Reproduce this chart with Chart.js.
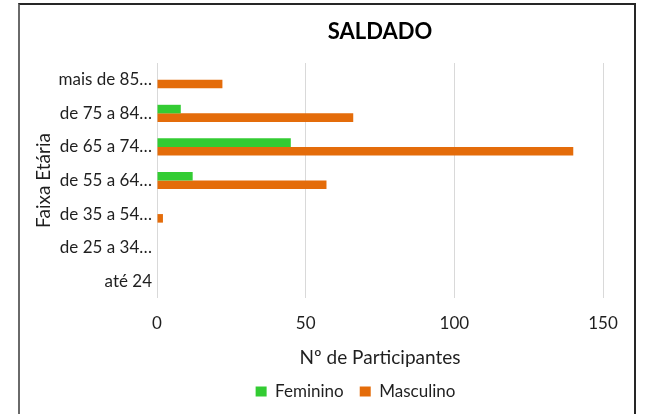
<!DOCTYPE html>
<html>
<head>
<meta charset="utf-8">
<script src="https://cdn.jsdelivr.net/npm/chart.js@4.4.1/dist/chart.umd.min.js"></script>
<style>
  html, body { margin: 0; padding: 0; background: #fff; overflow: hidden; }
  #wrap { position: relative; width: 645px; height: 414px; }
  #frame { position: absolute; left: 18px; top: 3px; width: 614px; height: 440px;
           border-style: solid; border-width: 2px; border-color: #262626 #262626 transparent #6a6a6a;
           pointer-events: none; box-sizing: content-box; }
  canvas { position: absolute; left: 0; top: 0; }
</style>
</head>
<body>
<div id="wrap">
  <canvas id="c" width="645" height="414"></canvas>
  <div id="frame"></div>
</div>
<script>
const chartTitle = 'SALDADO';
const categories = ['mais de 85…', 'de 75 a 84…', 'de 65 a 74…', 'de 55 a 64…', 'de 35 a 54…', 'de 25 a 34…', 'até 24'];
const seriesNames = ['Feminino', 'Masculino'];
const feminino = [0, 8, 45, 12, 0, 0, 0];
const masculino = [22, 66, 140, 57, 2, 0, 0];
const xTickValues = [0, 50, 100, 150];
const xAxisTitle = 'Nº de Participantes';
const yAxisTitle = 'Faixa Etária';

const FONT = 'Lato, "Open Sans", sans-serif';
const TEXT = '#1f1f1f';

const legendShift = {
  id: 'legendShift',
  afterLayout(chart) {
    const L = chart.legend;
    if (!L) return;
    const DX = 43, DY = -4;
    L.left += DX; L.right += DX; L.top += DY; L.bottom += DY;
  }
};

new Chart(document.getElementById('c'), {
  type: 'bar',
  data: {
    labels: categories,
    datasets: [
      { label: seriesNames[0], data: feminino, backgroundColor: '#33CC33', borderWidth: 0,
        categoryPercentage: 0.51, barPercentage: 1.0 },
      { label: seriesNames[1], data: masculino, backgroundColor: '#E46C0A', borderWidth: 0,
        categoryPercentage: 0.51, barPercentage: 1.0 }
    ]
  },
  options: {
    indexAxis: 'y',
    responsive: false,
    animation: false,
    devicePixelRatio: 1,
    layout: { padding: { top: 4, left: 22, right: 42, bottom: 0 } },
    plugins: {
      title: {
        display: true, text: chartTitle, fullSize: false, color: '#000',
        font: { family: FONT, size: 22, weight: 'bold' },
        padding: { top: 15, bottom: 17.6 }
      },
      legend: {
        display: true, position: 'bottom', fullSize: true,
        labels: { color: TEXT, font: { family: FONT, size: 17 }, boxWidth: 11, boxHeight: 10, padding: 16 }
      },
      tooltip: { enabled: false }
    },
    scales: {
      x: {
        type: 'linear', min: 0, max: 150,
        afterBuildTicks(scale) { scale.ticks = xTickValues.map(v => ({ value: v })); },
        afterFit(scale) { scale.height = 73; },
        grid: { display: true, color: '#d9d9d9', lineWidth: 1, drawTicks: false },
        border: { display: false },
        ticks: { color: TEXT, font: { family: FONT, size: 17 }, padding: 15, maxRotation: 0 },
        title: { display: true, text: xAxisTitle, color: TEXT, font: { family: FONT, size: 19 }, padding: { top: 2, bottom: 2 } }
      },
      y: {
        type: 'category',
        afterFit(scale) { scale.width = 135; },
        grid: { display: false, drawTicks: false },
        border: { display: false },
        ticks: { color: TEXT, font: { family: FONT, size: 17 }, padding: 5, autoSkip: false },
        title: { display: true, text: yAxisTitle, color: TEXT, font: { family: FONT, size: 19 }, padding: { top: 10, bottom: 0 } }
      }
    }
  },
  plugins: [legendShift]
});
</script>
</body>
</html>
